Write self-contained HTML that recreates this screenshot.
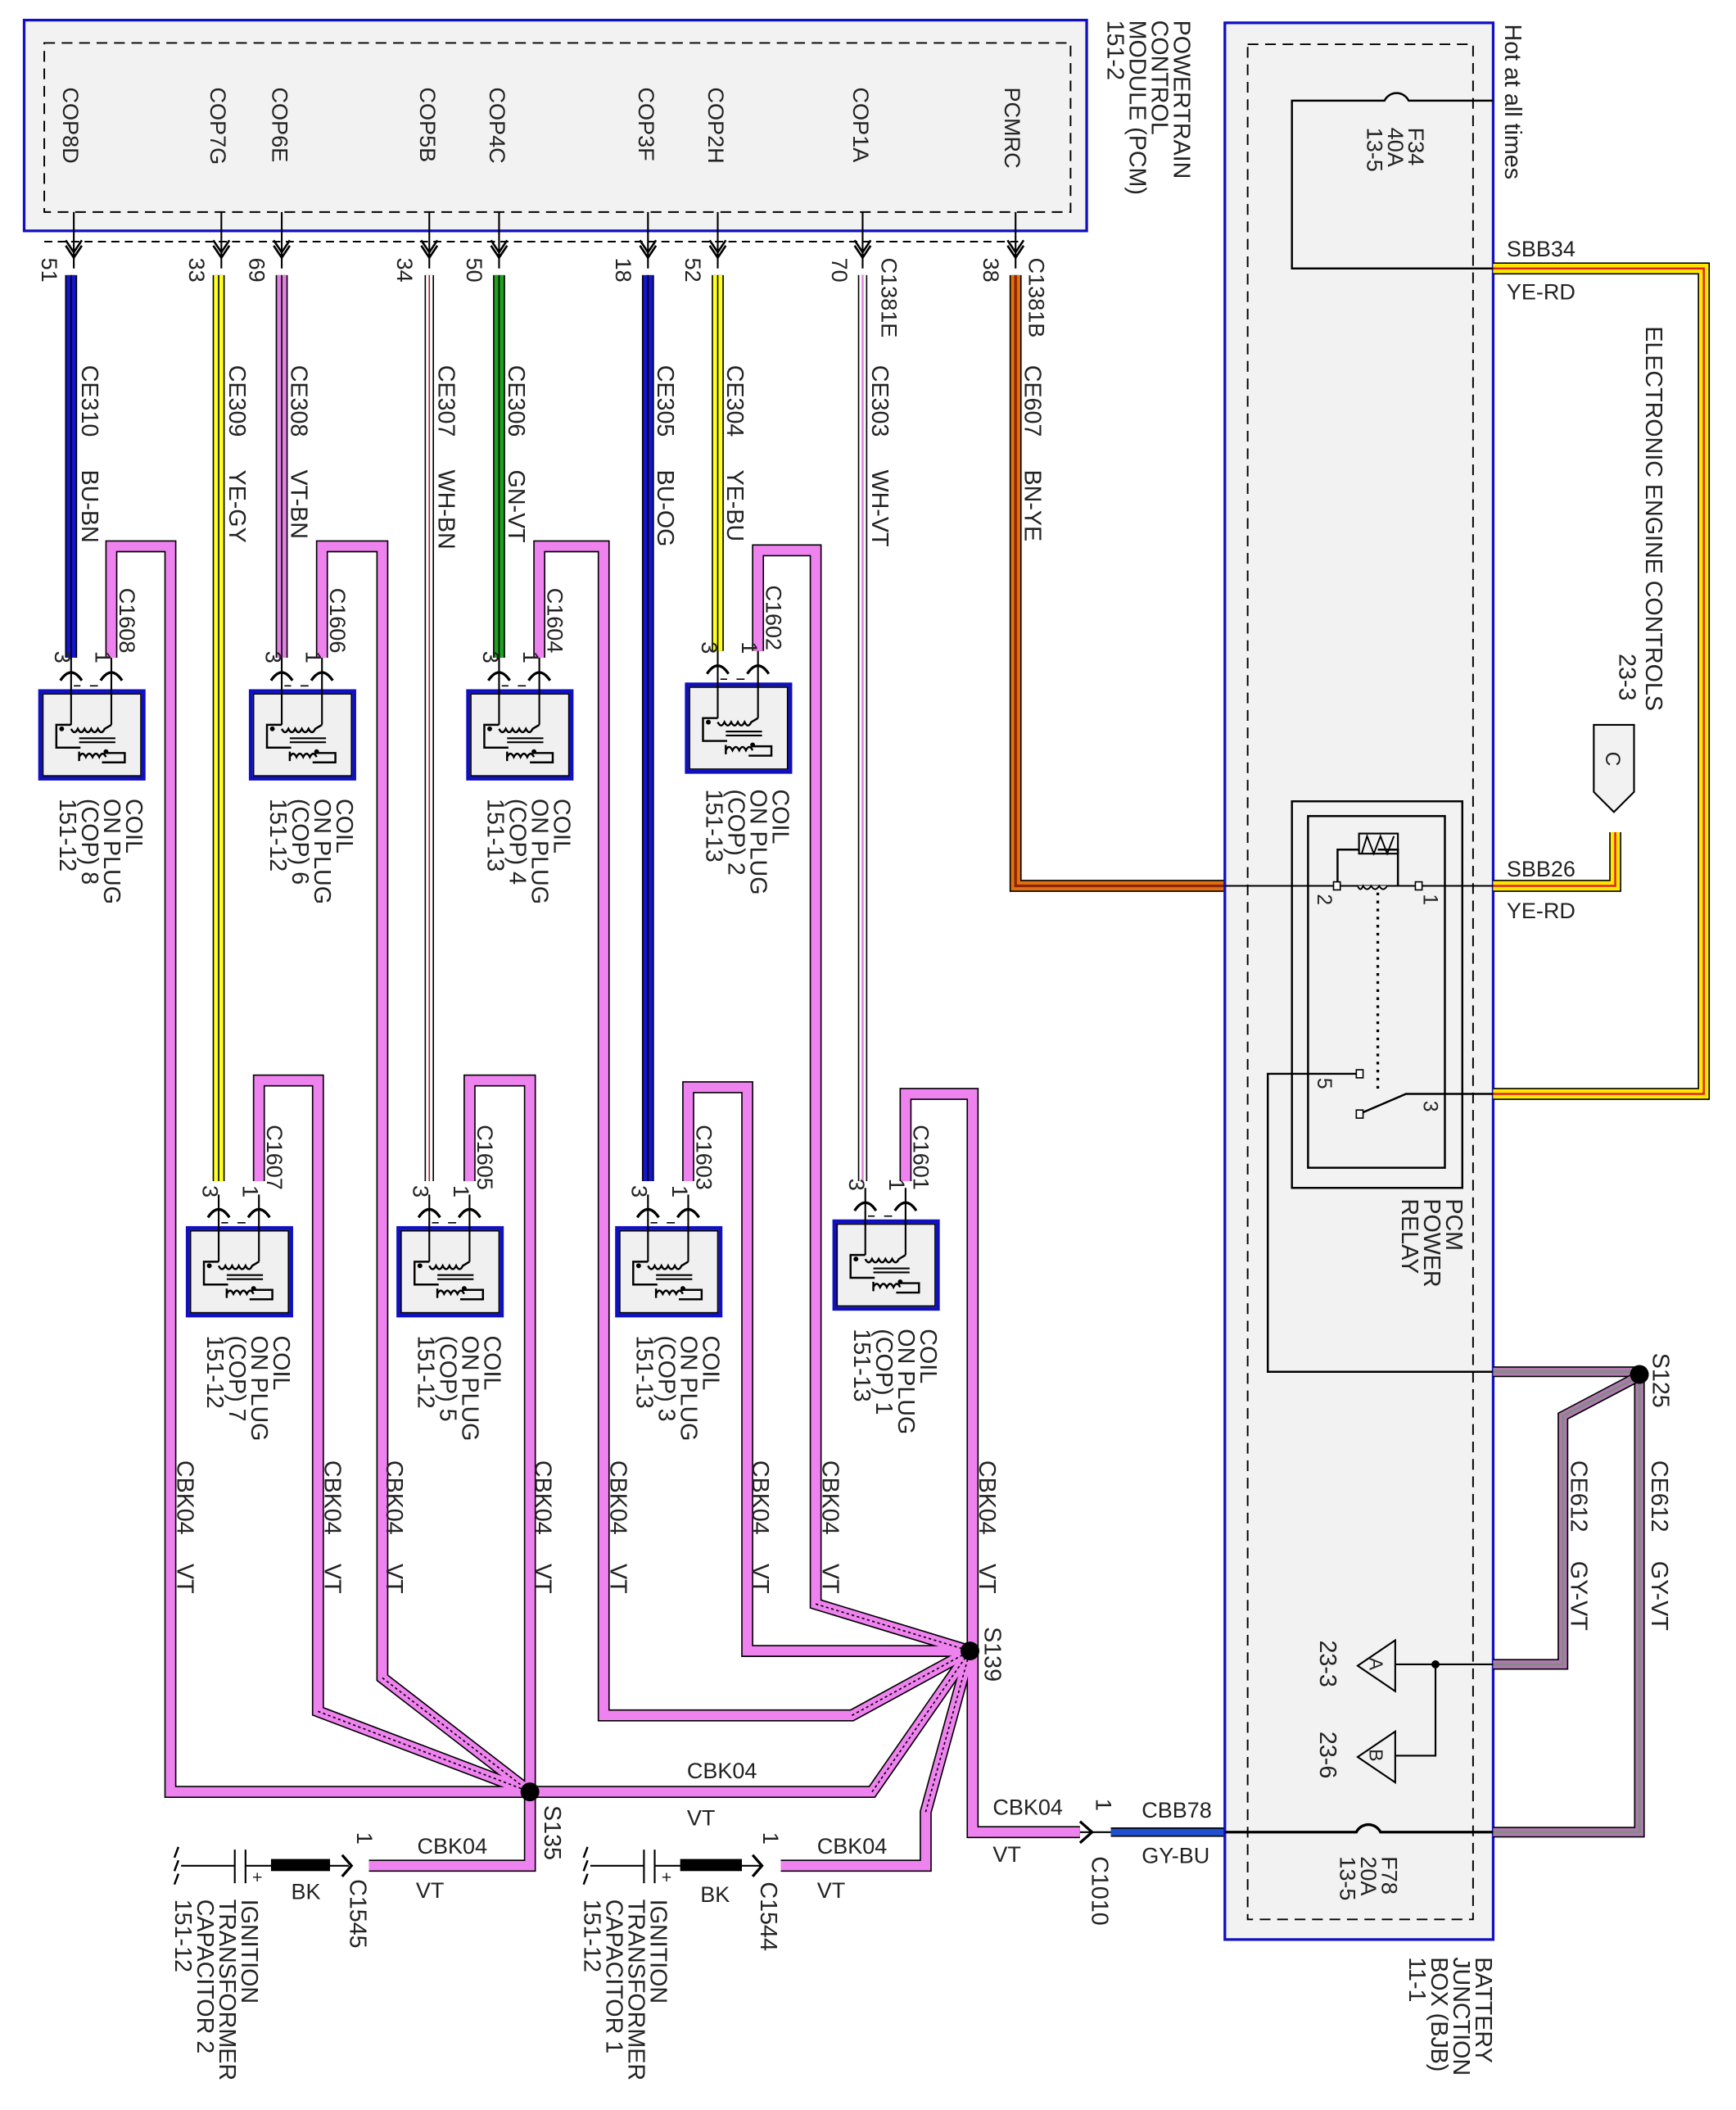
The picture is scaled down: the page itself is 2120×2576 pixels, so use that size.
<!DOCTYPE html>
<html><head><meta charset="utf-8"><style>html,body{margin:0;padding:0;background:#fff}svg{display:block}</style></head>
<body>
<svg xmlns="http://www.w3.org/2000/svg" xmlns:xlink="http://www.w3.org/1999/xlink" width="2120" height="2576" viewBox="0 0 1294 1572" preserveAspectRatio="none" font-family="Liberation Sans, sans-serif" font-size="17.5" fill="#222">
<defs>
<g id="coil">
<rect x="0" y="0" width="77" height="65" fill="#f0f0f0" stroke="#1010c0" stroke-width="3"/>
<rect x="2" y="2" width="73" height="61" fill="none" stroke="#000" stroke-width="1"/>
<path d="M23,-25V25M53,-25V25" stroke="#000" stroke-width="1.3" fill="none"/>
<path d="M15,-8Q23,-20 31,-8M45,-8Q53,-20 61,-8" stroke="#000" stroke-width="2" fill="none"/>
<path d="M25,-4h5M37,-4h6" stroke="#000" stroke-width="1"/>
<path d="M23,25H12V42H30M23,28q2.5,5 5,0q2.5,5 5,0q2.5,5 5,0q2.5,5 5,0q2.5,5 5,0L53,25" stroke="#000" stroke-width="1.5" fill="none"/>
<path d="M29,35H56M29,38H56" stroke="#000" stroke-width="1.3"/>
<path d="M29,49q2.5,-5 5,0q2.5,-5 5,0q2.5,-5 5,0q2.5,-5 5,0M48,46H63V53H46M29,45V52" stroke="#000" stroke-width="1.5" fill="none"/>
<circle cx="16" cy="28" r="1.8" fill="#000"/><circle cx="49" cy="45" r="1.8" fill="#000"/>
</g>
<g id="pin"><path d="M-6,-5L0,4L6,-5M-6,-9L0,0L6,-9" stroke="#000" stroke-width="1.6" fill="none"/></g>
</defs>

<!-- PCM box -->
<rect x="18" y="15" width="792" height="157" fill="#f2f2f2" stroke="#1010c0" stroke-width="2"/>
<rect x="33" y="32" width="765" height="126" fill="none" stroke="#000" stroke-width="1.2" stroke-dasharray="8,5"/>
<g font-size="16.5">
<text transform="translate(47,65) rotate(90)">COP8D</text>
<text transform="translate(157,65) rotate(90)">COP7G</text>
<text transform="translate(203,65) rotate(90)">COP6E</text>
<text transform="translate(313,65) rotate(90)">COP5B</text>
<text transform="translate(365,65) rotate(90)">COP4C</text>
<text transform="translate(476,65) rotate(90)">COP3F</text>
<text transform="translate(528,65) rotate(90)">COP2H</text>
<text transform="translate(636,65) rotate(90)">COP1A</text>
<text transform="translate(749,65) rotate(90)">PCMRC</text>
</g>
<text transform="translate(875,15) rotate(90)"><tspan x="0" dy="0">POWERTRAIN</tspan><tspan x="0" dy="16.5">CONTROL</tspan><tspan x="0" dy="16.5">MODULE (PCM)</tspan><tspan x="0" dy="16.5">151-2</tspan></text>
<path d="M33,180H760" stroke="#000" stroke-width="1.2" stroke-dasharray="6,4"/>
<path d="M55,158V200M165,158V200M210,158V200M320,158V200M372,158V200M483,158V200M535,158V200M643,158V200M757,158V200" stroke="#000" stroke-width="1.3"/>
<use xlink:href="#pin" x="55" y="188"/><use xlink:href="#pin" x="165" y="188"/><use xlink:href="#pin" x="210" y="188"/><use xlink:href="#pin" x="320" y="188"/><use xlink:href="#pin" x="372" y="188"/><use xlink:href="#pin" x="483" y="188"/><use xlink:href="#pin" x="535" y="188"/><use xlink:href="#pin" x="643" y="188"/><use xlink:href="#pin" x="757" y="188"/>
<g font-size="16.5">
<text transform="translate(31,192) rotate(90)">51</text>
<text transform="translate(141,192) rotate(90)">33</text>
<text transform="translate(186,192) rotate(90)">69</text>
<text transform="translate(296,192) rotate(90)">34</text>
<text transform="translate(348,192) rotate(90)">50</text>
<text transform="translate(459,192) rotate(90)">18</text>
<text transform="translate(511,192) rotate(90)">52</text>
<text transform="translate(620,192) rotate(90)">70</text>
<text transform="translate(733,192) rotate(90)">38</text>
<text transform="translate(657,192) rotate(90)">C1381E</text>
<text transform="translate(767,192) rotate(90)">C1381B</text>
</g>

<!-- colored wires -->
<g fill="none">
<path d="M53,205V490" stroke="#000" stroke-width="9"/><path d="M53,205V490" stroke="#1515d0" stroke-width="7"/><path d="M53,205V490" stroke="#000" stroke-width="1"/>
<path d="M163,205V880" stroke="#000" stroke-width="9"/><path d="M163,205V880" stroke="#ffff20" stroke-width="7"/><path d="M163,205V880" stroke="#000" stroke-width="1"/>
<path d="M210,205V490" stroke="#000" stroke-width="9"/><path d="M210,205V490" stroke="#e080e0" stroke-width="7"/><path d="M210,205V490" stroke="#000" stroke-width="1"/>
<path d="M320,205V880" stroke="#000" stroke-width="7"/><path d="M320,205V880" stroke="#fff" stroke-width="5"/><path d="M320,205V880" stroke="#a02020" stroke-width="1"/>
<path d="M372,205V490" stroke="#000" stroke-width="9"/><path d="M372,205V490" stroke="#20a020" stroke-width="7"/><path d="M372,205V490" stroke="#000" stroke-width="1"/>
<path d="M483,205V880" stroke="#000" stroke-width="9"/><path d="M483,205V880" stroke="#1515d0" stroke-width="7"/><path d="M483,205V880" stroke="#000" stroke-width="1"/>
<path d="M535,205V485" stroke="#000" stroke-width="9"/><path d="M535,205V485" stroke="#ffff20" stroke-width="7"/><path d="M535,205V485" stroke="#000" stroke-width="1"/>
<path d="M643,205V880" stroke="#000" stroke-width="7"/><path d="M643,205V880" stroke="#fff" stroke-width="5"/><path d="M643,205V880" stroke="#e080e0" stroke-width="1.5"/>
<path d="M757,205V660H913" stroke="#000" stroke-width="9"/><path d="M757,205V660H913" stroke="#e07010" stroke-width="7"/><path d="M757,205V660H913" stroke="#8b2500" stroke-width="2"/>
</g>
<g>
<text transform="translate(61,272) rotate(90)">CE310</text><text transform="translate(61,350) rotate(90)">BU-BN</text>
<text transform="translate(171,272) rotate(90)">CE309</text><text transform="translate(171,350) rotate(90)">YE-GY</text>
<text transform="translate(217,272) rotate(90)">CE308</text><text transform="translate(217,350) rotate(90)">VT-BN</text>
<text transform="translate(327,272) rotate(90)">CE307</text><text transform="translate(327,350) rotate(90)">WH-BN</text>
<text transform="translate(379,272) rotate(90)">CE306</text><text transform="translate(379,350) rotate(90)">GN-VT</text>
<text transform="translate(490,272) rotate(90)">CE305</text><text transform="translate(490,350) rotate(90)">BU-OG</text>
<text transform="translate(542,272) rotate(90)">CE304</text><text transform="translate(542,350) rotate(90)">YE-BU</text>
<text transform="translate(650,272) rotate(90)">CE303</text><text transform="translate(650,350) rotate(90)">WH-VT</text>
<text transform="translate(764,272) rotate(90)">CE607</text><text transform="translate(764,350) rotate(90)">BN-YE</text>
</g>

<!-- pink VT wires -->
<g fill="none" stroke-linejoin="miter">
<g stroke="#000" stroke-width="9">
<path d="M83,490V407H127V1335H395"/><path d="M193,880V805H237V1275L395,1335"/><path d="M240,490V407H285V1250L395,1335"/><path d="M350,880V805H395V1390H275"/><path d="M402,490V407H450V1278H635L723,1230"/><path d="M513,880V810H557V1230H723"/><path d="M565,485V410H608V1195L723,1230"/><path d="M675,880V815H725V1365H805"/><path d="M395,1335H650L723,1230"/><path d="M582,1390H690V1350L723,1230"/>
</g>
<g stroke="#ee82ee" stroke-width="7">
<path d="M83,490V407H127V1335H395"/><path d="M193,880V805H237V1275L395,1335"/><path d="M240,490V407H285V1250L395,1335"/><path d="M350,880V805H395V1390H275"/><path d="M402,490V407H450V1278H635L723,1230"/><path d="M513,880V810H557V1230H723"/><path d="M565,485V410H608V1195L723,1230"/><path d="M675,880V815H725V1365H805"/><path d="M395,1335H650L723,1230"/><path d="M582,1390H690V1350L723,1230"/>
</g>
<g stroke="#000" stroke-width="1" stroke-dasharray="2,2">
<path d="M237,1275L395,1335"/><path d="M285,1250L395,1335"/><path d="M635,1278L723,1230"/><path d="M608,1195L723,1230"/><path d="M650,1335L723,1230"/><path d="M690,1350L723,1230"/>
</g>
</g>
<circle cx="395" cy="1335" r="7" fill="#000"/>
<circle cx="723" cy="1230" r="7" fill="#000"/>
<text transform="translate(406,1345) rotate(90)">S135</text>
<text transform="translate(734,1212) rotate(90)">S139</text>
<text x="512" y="1325" font-size="16.5">CBK04</text><text x="512" y="1360" font-size="16.5">VT</text>

<g>
<text transform="translate(132,1088) rotate(90)">CBK04</text><text transform="translate(132,1165) rotate(90)">VT</text>
<text transform="translate(242,1088) rotate(90)">CBK04</text><text transform="translate(242,1165) rotate(90)">VT</text>
<text transform="translate(288,1088) rotate(90)">CBK04</text><text transform="translate(288,1165) rotate(90)">VT</text>
<text transform="translate(399,1088) rotate(90)">CBK04</text><text transform="translate(399,1165) rotate(90)">VT</text>
<text transform="translate(455,1088) rotate(90)">CBK04</text><text transform="translate(455,1165) rotate(90)">VT</text>
<text transform="translate(561,1088) rotate(90)">CBK04</text><text transform="translate(561,1165) rotate(90)">VT</text>
<text transform="translate(613,1088) rotate(90)">CBK04</text><text transform="translate(613,1165) rotate(90)">VT</text>
<text transform="translate(730,1088) rotate(90)">CBK04</text><text transform="translate(730,1165) rotate(90)">VT</text>
</g>

<!-- coils -->
<use xlink:href="#coil" x="30" y="515"/>
<use xlink:href="#coil" x="187" y="515"/>
<use xlink:href="#coil" x="349" y="515"/>
<use xlink:href="#coil" x="512" y="510"/>
<use xlink:href="#coil" x="140" y="915"/>
<use xlink:href="#coil" x="297" y="915"/>
<use xlink:href="#coil" x="460" y="915"/>
<use xlink:href="#coil" x="622" y="910"/>
<g font-size="16.5">
<text transform="translate(41,485) rotate(90)">3</text><text transform="translate(71,485) rotate(90)">1</text><text transform="translate(89,438) rotate(90)">C1608</text>
<text transform="translate(198,485) rotate(90)">3</text><text transform="translate(228,485) rotate(90)">1</text><text transform="translate(246,438) rotate(90)">C1606</text>
<text transform="translate(360,485) rotate(90)">3</text><text transform="translate(390,485) rotate(90)">1</text><text transform="translate(408,438) rotate(90)">C1604</text>
<text transform="translate(523,478) rotate(90)">3</text><text transform="translate(553,478) rotate(90)">1</text><text transform="translate(571,436) rotate(90)">C1602</text>
<text transform="translate(151,883) rotate(90)">3</text><text transform="translate(181,883) rotate(90)">1</text><text transform="translate(199,838) rotate(90)">C1607</text>
<text transform="translate(308,883) rotate(90)">3</text><text transform="translate(338,883) rotate(90)">1</text><text transform="translate(356,838) rotate(90)">C1605</text>
<text transform="translate(471,883) rotate(90)">3</text><text transform="translate(501,883) rotate(90)">1</text><text transform="translate(519,838) rotate(90)">C1603</text>
<text transform="translate(633,878) rotate(90)">3</text><text transform="translate(663,878) rotate(90)">1</text><text transform="translate(681,838) rotate(90)">C1601</text>
</g>
<g>
<text transform="translate(94,595) rotate(90)"><tspan x="0">COIL</tspan><tspan x="0" dy="16.5">ON PLUG</tspan><tspan x="0" dy="16.5">(COP) 8</tspan><tspan x="0" dy="16.5">151-12</tspan></text>
<text transform="translate(251,595) rotate(90)"><tspan x="0">COIL</tspan><tspan x="0" dy="16.5">ON PLUG</tspan><tspan x="0" dy="16.5">(COP) 6</tspan><tspan x="0" dy="16.5">151-12</tspan></text>
<text transform="translate(413,595) rotate(90)"><tspan x="0">COIL</tspan><tspan x="0" dy="16.5">ON PLUG</tspan><tspan x="0" dy="16.5">(COP) 4</tspan><tspan x="0" dy="16.5">151-13</tspan></text>
<text transform="translate(576,588) rotate(90)"><tspan x="0">COIL</tspan><tspan x="0" dy="16.5">ON PLUG</tspan><tspan x="0" dy="16.5">(COP) 2</tspan><tspan x="0" dy="16.5">151-13</tspan></text>
<text transform="translate(204,995) rotate(90)"><tspan x="0">COIL</tspan><tspan x="0" dy="16.5">ON PLUG</tspan><tspan x="0" dy="16.5">(COP) 7</tspan><tspan x="0" dy="16.5">151-12</tspan></text>
<text transform="translate(361,995) rotate(90)"><tspan x="0">COIL</tspan><tspan x="0" dy="16.5">ON PLUG</tspan><tspan x="0" dy="16.5">(COP) 5</tspan><tspan x="0" dy="16.5">151-12</tspan></text>
<text transform="translate(524,995) rotate(90)"><tspan x="0">COIL</tspan><tspan x="0" dy="16.5">ON PLUG</tspan><tspan x="0" dy="16.5">(COP) 3</tspan><tspan x="0" dy="16.5">151-13</tspan></text>
<text transform="translate(686,990) rotate(90)"><tspan x="0">COIL</tspan><tspan x="0" dy="16.5">ON PLUG</tspan><tspan x="0" dy="16.5">(COP) 1</tspan><tspan x="0" dy="16.5">151-13</tspan></text>
</g>

<!-- capacitors -->
<g stroke="#000" fill="none" stroke-width="1.3">
<path d="M135,1390H175M175,1378V1403M183,1378V1403M183,1390H260"/>
<path d="M440,1390H480M480,1378V1403M488,1378V1403M488,1390H568"/>
</g>
<path d="M133,1376l-3,8M133,1386l-3,8M133,1396l-3,8" stroke="#000" stroke-width="1.5"/>
<path d="M438,1376l-3,8M438,1386l-3,8M438,1396l-3,8" stroke="#000" stroke-width="1.5"/>
<rect x="202" y="1385" width="44" height="9" fill="#000"/>
<rect x="507" y="1385" width="46" height="9" fill="#000"/>
<text x="188" y="1403" font-size="13">+</text><text x="493" y="1403" font-size="13">+</text>
<path d="M255,1382L262,1390L255,1398" stroke="#000" stroke-width="2" fill="none"/>
<path d="M561,1382L568,1390L561,1398" stroke="#000" stroke-width="2" fill="none"/>
<text x="217" y="1415" font-size="16.5">BK</text><text x="522" y="1417" font-size="16.5">BK</text>
<text x="311" y="1381" font-size="16.5">CBK04</text><text x="310" y="1414" font-size="16.5">VT</text>
<text x="609" y="1381" font-size="16.5">CBK04</text><text x="609" y="1414" font-size="16.5">VT</text>
<text transform="translate(266,1365) rotate(90)" font-size="16.5">1</text>
<text transform="translate(569,1365) rotate(90)" font-size="16.5">1</text>
<text transform="translate(261,1400) rotate(90)">C1545</text>
<text transform="translate(567,1402) rotate(90)">C1544</text>
<text transform="translate(180,1415) rotate(90)"><tspan x="0">IGNITION</tspan><tspan x="0" dy="16.5">TRANSFORMER</tspan><tspan x="0" dy="16.5">CAPACITOR 2</tspan><tspan x="0" dy="16.5">151-12</tspan></text>
<text transform="translate(485,1415) rotate(90)"><tspan x="0">IGNITION</tspan><tspan x="0" dy="16.5">TRANSFORMER</tspan><tspan x="0" dy="16.5">CAPACITOR 1</tspan><tspan x="0" dy="16.5">151-12</tspan></text>

<!-- C1010 -->
<path d="M805,1365H828" stroke="#000" stroke-width="1.3"/>
<path d="M805,1357L814,1365L805,1373" stroke="#000" stroke-width="2" fill="none"/>
<text x="740" y="1352" font-size="16.5">CBK04</text><text x="740" y="1387" font-size="16.5">VT</text>
<text transform="translate(817,1340) rotate(90)" font-size="16.5">1</text>
<text transform="translate(814,1383) rotate(90)">C1010</text>
<path d="M828,1365H913" stroke="#000" stroke-width="7"/><path d="M828,1365H913" stroke="#2050d0" stroke-width="5"/>
<text x="851" y="1354" font-size="16.5">CBB78</text><text x="851" y="1388" font-size="16.5">GY-BU</text>

<!-- BJB -->
<rect x="913" y="17" width="200" height="1428" fill="#f2f2f2" stroke="#1010c0" stroke-width="2"/>
<rect x="930" y="33" width="168" height="1397" fill="none" stroke="#000" stroke-width="1.2" stroke-dasharray="8,5"/>
<text transform="translate(1122,18) rotate(90)">Hot at all times</text>
<path d="M1113,75H1050a10,10 0 0 0 -18,0H963V200H1113" stroke="#000" stroke-width="1.5" fill="none"/>
<text transform="translate(1050,95) rotate(90)" font-size="16.5"><tspan x="0">F34</tspan><tspan x="0" dy="15.5">40A</tspan><tspan x="0" dy="15.5">13-5</tspan></text>
<text x="1123" y="191" font-size="16.5">SBB34</text><text x="1123" y="223" font-size="16.5">YE-RD</text>
<g fill="none">
<path d="M1113,200H1270V815H1113" stroke="#000" stroke-width="9"/><path d="M1113,200H1270V815H1113" stroke="#ffe800" stroke-width="7"/><path d="M1113,200H1270V815H1113" stroke="#e02020" stroke-width="1.5"/>
<path d="M1113,660H1204V620" stroke="#000" stroke-width="9"/><path d="M1113,660H1204V620" stroke="#ffe800" stroke-width="7"/><path d="M1113,660H1204V620" stroke="#e02020" stroke-width="1.5"/>
</g>
<path d="M1188,540H1218V590L1203,605L1188,590Z" fill="#f2f2f2" stroke="#000" stroke-width="1.3"/>
<text transform="translate(1197,560) rotate(90)" font-size="15">C</text>
<text transform="translate(1227,243) rotate(90)">ELECTRONIC ENGINE CONTROLS</text>
<text transform="translate(1207,487) rotate(90)">23-3</text>
<text x="1123" y="653" font-size="16.5">SBB26</text><text x="1123" y="684" font-size="16.5">YE-RD</text>

<!-- relay -->
<rect x="963" y="597" width="127" height="288" fill="none" stroke="#000" stroke-width="1.5"/>
<rect x="975" y="608" width="102" height="262" fill="none" stroke="#000" stroke-width="1.5"/>
<path d="M913,660H1113" stroke="#000" stroke-width="1.2"/>
<path d="M997,660V633H1013M1027,633H1042V660" stroke="#000" stroke-width="1.5" fill="none"/>
<rect x="1013" y="621" width="29" height="15" fill="none" stroke="#000" stroke-width="1.3"/>
<path d="M1015,636L1019,623L1024,636L1029,623L1034,636L1039,623" stroke="#000" stroke-width="1.2" fill="none"/>
<path d="M1012,660q2,5 4,0q3,5 6,0q3,5 6,0q3,5 6,0" stroke="#000" stroke-width="1.2" fill="#f2f2f2"/>
<rect x="994" y="657" width="5" height="6" fill="#fff" stroke="#000"/><rect x="1055" y="657" width="5" height="6" fill="#fff" stroke="#000"/>
<path d="M1027,665V815" stroke="#000" stroke-width="2" stroke-dasharray="2,4"/>
<text transform="translate(982,666) rotate(90)" font-size="15">2</text><text transform="translate(1061,666) rotate(90)" font-size="15">1</text>
<path d="M1013,800H945V1022H1113" stroke="#000" stroke-width="1.5" fill="none"/>
<rect x="1011" y="797" width="5" height="6" fill="#fff" stroke="#000"/>
<path d="M1013,830L1048,815H1113" stroke="#000" stroke-width="1.5" fill="none"/>
<rect x="1011" y="827" width="5" height="6" fill="#fff" stroke="#000"/>
<text transform="translate(982,803) rotate(90)" font-size="15">5</text><text transform="translate(1061,820) rotate(90)" font-size="15">3</text>
<text transform="translate(1078,893) rotate(90)"><tspan x="0">PCM</tspan><tspan x="0" dy="16.5">POWER</tspan><tspan x="0" dy="16.5">RELAY</tspan></text>

<!-- S125 and grey wires -->
<g fill="none">
<path d="M1113,1022H1222V1365H1113" stroke="#000" stroke-width="8"/><path d="M1113,1022H1222V1365H1113" stroke="#b07ab0" stroke-width="6"/><path d="M1113,1022H1222V1365H1113" stroke="#888" stroke-width="2"/>
<path d="M1222,1025L1165,1055V1240H1113" stroke="#000" stroke-width="8"/><path d="M1222,1025L1165,1055V1240H1113" stroke="#b07ab0" stroke-width="6"/><path d="M1222,1025L1165,1055V1240H1113" stroke="#888" stroke-width="2"/>
</g>
<circle cx="1222" cy="1024" r="7" fill="#000"/>
<text transform="translate(1232,1008) rotate(90)">S125</text>
<text transform="translate(1171,1088) rotate(90)">CE612</text><text transform="translate(1171,1163) rotate(90)">GY-VT</text>
<text transform="translate(1231,1088) rotate(90)">CE612</text><text transform="translate(1231,1163) rotate(90)">GY-VT</text>
<path d="M1113,1240H1040M1070,1240V1308H1040" stroke="#000" stroke-width="1.3" fill="none"/>
<circle cx="1070" cy="1240" r="3" fill="#000"/>
<path d="M1040,1222V1260L1012,1241Z" fill="#f2f2f2" stroke="#000" stroke-width="1.3"/>
<path d="M1040,1290V1328L1012,1309Z" fill="#f2f2f2" stroke="#000" stroke-width="1.3"/>
<text transform="translate(1021,1235) rotate(90)" font-size="14">A</text>
<text transform="translate(1021,1303) rotate(90)" font-size="14">B</text>
<text transform="translate(984,1222) rotate(90)">23-3</text>
<text transform="translate(984,1290) rotate(90)">23-6</text>
<path d="M913,1365H1011a10,10 0 0 1 18,0H1113" stroke="#000" stroke-width="2" fill="none"/>
<text transform="translate(1030,1383) rotate(90)" font-size="16.5"><tspan x="0">F78</tspan><tspan x="0" dy="15.5">20A</tspan><tspan x="0" dy="15.5">13-5</tspan></text>
<text transform="translate(1100,1458) rotate(90)"><tspan x="0">BATTERY</tspan><tspan x="0" dy="16.5">JUNCTION</tspan><tspan x="0" dy="16.5">BOX (BJB)</tspan><tspan x="0" dy="16.5">11-1</tspan></text>
</svg>
</body></html>
